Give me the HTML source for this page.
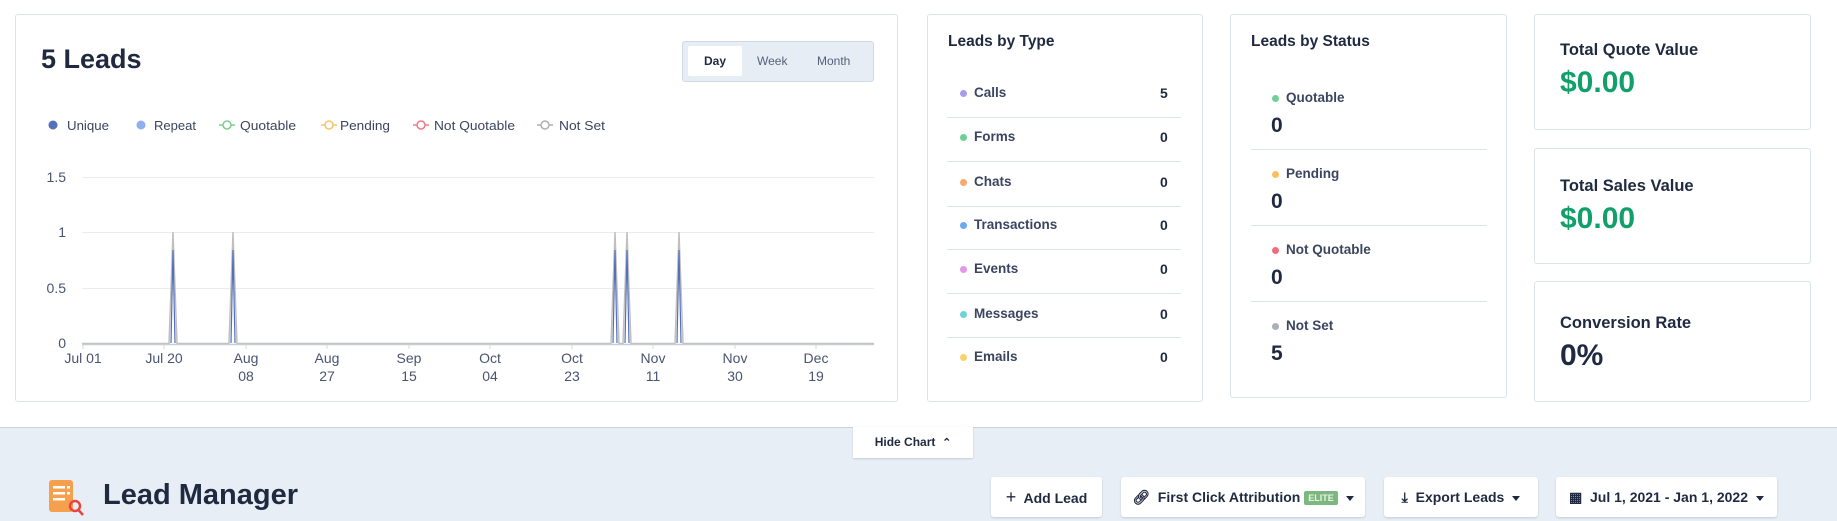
<!DOCTYPE html>
<html><head><meta charset="utf-8"><style>
*{margin:0;padding:0;box-sizing:border-box}
body{width:1837px;height:521px;overflow:hidden;background:#fff;font-family:"Liberation Sans",sans-serif;color:#1f2940;position:relative}
.a{position:absolute;white-space:nowrap}
.card{position:absolute;background:#fff;border:1px solid #dde3ec;border-radius:3px}
.b{font-weight:bold}
.dot{position:absolute;width:7px;height:7px;border-radius:50%}
.div{position:absolute;height:1px;background:#dde3ec}
.btn{position:absolute;top:477px;height:40px;background:#fff;border-radius:3px;box-shadow:0 1px 2px rgba(0,0,0,.15);font-size:14px;font-weight:bold;line-height:40px;text-align:center}
.car{display:inline-block;width:0;height:0;border-left:4px solid transparent;border-right:4px solid transparent;border-top:5px solid #1f2940;vertical-align:middle;margin-left:8px}
</style></head><body>

<div class="card" style="left:15px;top:14px;width:883px;height:388px"></div>
<div class="a b" style="left:41px;top:44px;font-size:27px">5 Leads</div>
<div class="a" style="left:682px;top:41px;width:192px;height:41px;background:#e6edf5;border:1px solid #cfd9e6;border-radius:3px"></div>
<div class="a" style="left:688px;top:46px;width:54px;height:30px;background:#fff;border-radius:2px;font-size:12px;font-weight:bold;text-align:center;line-height:30px">Day</div>
<div class="a" style="left:757px;top:46px;font-size:12px;line-height:30px;color:#55607a">Week</div>
<div class="a" style="left:817px;top:46px;font-size:12px;line-height:30px;color:#55607a">Month</div>

<svg class="a" style="left:0;top:0" width="900" height="410">
<g font-family="Liberation Sans" font-size="12.5" fill="#3b4560">
<circle cx="53" cy="125" r="4.5" fill="#5470b8"/><text x="67" y="130" textLength="42" lengthAdjust="spacingAndGlyphs">Unique</text>
<circle cx="141" cy="125" r="4.5" fill="#8fb0ef"/><text x="154" y="130" textLength="42" lengthAdjust="spacingAndGlyphs">Repeat</text>
<line x1="219" y1="125" x2="235" y2="125" stroke="#7ccf90" stroke-width="1.5"/><circle cx="227" cy="125" r="4" fill="#fff" stroke="#7ccf90" stroke-width="1.5"/><text x="240" y="130" textLength="56" lengthAdjust="spacingAndGlyphs">Quotable</text>
<line x1="321" y1="125" x2="337" y2="125" stroke="#f7c56b" stroke-width="1.5"/><circle cx="329" cy="125" r="4" fill="#fff" stroke="#f7c56b" stroke-width="1.5"/><text x="340" y="130" textLength="50" lengthAdjust="spacingAndGlyphs">Pending</text>
<line x1="413" y1="125" x2="429" y2="125" stroke="#f07a85" stroke-width="1.5"/><circle cx="421" cy="125" r="4" fill="#fff" stroke="#f07a85" stroke-width="1.5"/><text x="434" y="130" textLength="81" lengthAdjust="spacingAndGlyphs">Not Quotable</text>
<line x1="537" y1="125" x2="553" y2="125" stroke="#b0b0b0" stroke-width="1.5"/><circle cx="545" cy="125" r="4" fill="#fff" stroke="#b0b0b0" stroke-width="1.5"/><text x="559" y="130" textLength="46" lengthAdjust="spacingAndGlyphs">Not Set</text>
</g>
<g stroke="#ececec" stroke-width="1"><line x1="82" y1="177.5" x2="874" y2="177.5"/><line x1="82" y1="232.5" x2="874" y2="232.5"/><line x1="82" y1="288.5" x2="874" y2="288.5"/></g>
<g font-family="Liberation Sans" font-size="14" fill="#4a5470" text-anchor="end">
<text x="66" y="182">1.5</text><text x="66" y="237">1</text><text x="66" y="293">0.5</text><text x="66" y="348">0</text></g>
<g stroke="#d5dae2"><line x1="83" y1="344" x2="83" y2="349"/><line x1="164" y1="344" x2="164" y2="349"/><line x1="246" y1="344" x2="246" y2="349"/><line x1="327" y1="344" x2="327" y2="349"/><line x1="409" y1="344" x2="409" y2="349"/><line x1="490" y1="344" x2="490" y2="349"/><line x1="572" y1="344" x2="572" y2="349"/><line x1="653" y1="344" x2="653" y2="349"/><line x1="735" y1="344" x2="735" y2="349"/><line x1="816" y1="344" x2="816" y2="349"/></g>
<g font-family="Liberation Sans" font-size="14" fill="#4a5470" text-anchor="middle">
<text x="83" y="363">Jul 01</text><text x="164" y="363">Jul 20</text>
<text x="246" y="363">Aug</text><text x="246" y="381">08</text>
<text x="327" y="363">Aug</text><text x="327" y="381">27</text>
<text x="409" y="363">Sep</text><text x="409" y="381">15</text>
<text x="490" y="363">Oct</text><text x="490" y="381">04</text>
<text x="572" y="363">Oct</text><text x="572" y="381">23</text>
<text x="653" y="363">Nov</text><text x="653" y="381">11</text>
<text x="735" y="363">Nov</text><text x="735" y="381">30</text>
<text x="816" y="363">Dec</text><text x="816" y="381">19</text></g>
<g fill="none" stroke-width="1.5">
<polyline stroke="#c0c0c0" points="82,343.5 169,343.5 173,232 177,343.5 229,343.5 233,232 237,343.5 611,343.5 615,232 619,343.5 623,343.5 627,232 631,343.5 675,343.5 679,232 683,343.5 874,343.5"/>
<polyline stroke="#5470b8" stroke-width="1.2" points="171,343 173,250 175,343"/>
<polyline stroke="#5470b8" stroke-width="1.2" points="231,343 233,250 235,343"/>
<polyline stroke="#5470b8" stroke-width="1.2" points="613,343 615,250 617,343"/>
<polyline stroke="#5470b8" stroke-width="1.2" points="625,343 627,250 629,343"/>
<polyline stroke="#5470b8" stroke-width="1.2" points="677,343 679,250 681,343"/>
</g>
<line x1="82" y1="344.5" x2="874" y2="344.5" stroke="#c8ccd4" stroke-width="1.5"/>
</svg>

<!-- Leads by Type -->
<div class="card" style="left:927px;top:14px;width:276px;height:388px"></div>
<div class="a b" style="left:948px;top:33px;font-size:15.5px">Leads by Type</div>
<div class="dot" style="left:960px;top:90px;background:#a99be8"></div><div class="a b" style="left:974px;top:85px;font-size:13.5px;color:#3b4560">Calls</div><div class="a b" style="left:1160px;top:85px;font-size:14px">5</div>
<div class="div" style="left:947px;top:117px;width:234px"></div>
<div class="dot" style="left:960px;top:134px;background:#6fcf97"></div><div class="a b" style="left:974px;top:129px;font-size:13.5px;color:#3b4560">Forms</div><div class="a b" style="left:1160px;top:129px;font-size:14px">0</div>
<div class="div" style="left:947px;top:161px;width:234px"></div>
<div class="dot" style="left:960px;top:179px;background:#f9a870"></div><div class="a b" style="left:974px;top:174px;font-size:13.5px;color:#3b4560">Chats</div><div class="a b" style="left:1160px;top:174px;font-size:14px">0</div>
<div class="div" style="left:947px;top:206px;width:234px"></div>
<div class="dot" style="left:960px;top:222px;background:#6aa8f0"></div><div class="a b" style="left:974px;top:217px;font-size:13.5px;color:#3b4560">Transactions</div><div class="a b" style="left:1160px;top:217px;font-size:14px">0</div>
<div class="div" style="left:947px;top:249px;width:234px"></div>
<div class="dot" style="left:960px;top:266px;background:#e596e8"></div><div class="a b" style="left:974px;top:261px;font-size:13.5px;color:#3b4560">Events</div><div class="a b" style="left:1160px;top:261px;font-size:14px">0</div>
<div class="div" style="left:947px;top:293px;width:234px"></div>
<div class="dot" style="left:960px;top:311px;background:#6fd3d3"></div><div class="a b" style="left:974px;top:306px;font-size:13.5px;color:#3b4560">Messages</div><div class="a b" style="left:1160px;top:306px;font-size:14px">0</div>
<div class="div" style="left:947px;top:337px;width:234px"></div>
<div class="dot" style="left:960px;top:354px;background:#fccf6f"></div><div class="a b" style="left:974px;top:349px;font-size:13.5px;color:#3b4560">Emails</div><div class="a b" style="left:1160px;top:349px;font-size:14px">0</div>

<!-- Leads by Status -->
<div class="card" style="left:1230px;top:14px;width:277px;height:384px"></div>
<div class="a b" style="left:1251px;top:33px;font-size:15.5px">Leads by Status</div>
<div class="dot" style="left:1272px;top:95px;background:#6fcf97"></div><div class="a b" style="left:1286px;top:90px;font-size:13.5px;color:#3b4560">Quotable</div><div class="a b" style="left:1271px;top:114px;font-size:21px">0</div>
<div class="div" style="left:1251px;top:149px;width:236px"></div>
<div class="dot" style="left:1272px;top:171px;background:#fcbf5f"></div><div class="a b" style="left:1286px;top:166px;font-size:13.5px;color:#3b4560">Pending</div><div class="a b" style="left:1271px;top:190px;font-size:21px">0</div>
<div class="div" style="left:1251px;top:225px;width:236px"></div>
<div class="dot" style="left:1272px;top:247px;background:#f06c7a"></div><div class="a b" style="left:1286px;top:242px;font-size:13.5px;color:#3b4560">Not Quotable</div><div class="a b" style="left:1271px;top:266px;font-size:21px">0</div>
<div class="div" style="left:1251px;top:301px;width:236px"></div>
<div class="dot" style="left:1272px;top:323px;background:#a9b0b8"></div><div class="a b" style="left:1286px;top:318px;font-size:13.5px;color:#3b4560">Not Set</div><div class="a b" style="left:1271px;top:342px;font-size:21px">5</div>

<!-- right cards -->
<div class="card" style="left:1534px;top:14px;width:277px;height:116px"></div>
<div class="a b" style="left:1560px;top:41px;font-size:16.5px">Total Quote Value</div>
<div class="a b" style="left:1560px;top:66px;font-size:30px;color:#12a06a">$0.00</div>
<div class="card" style="left:1534px;top:148px;width:277px;height:116px"></div>
<div class="a b" style="left:1560px;top:177px;font-size:16.5px">Total Sales Value</div>
<div class="a b" style="left:1560px;top:202px;font-size:30px;color:#12a06a">$0.00</div>
<div class="card" style="left:1534px;top:281px;width:277px;height:121px"></div>
<div class="a b" style="left:1560px;top:314px;font-size:16.5px">Conversion Rate</div>
<div class="a b" style="left:1560px;top:339px;font-size:30px">0%</div>

<!-- bottom -->
<div class="a" style="left:0;top:427px;width:1837px;height:94px;background:#e7eef6;border-top:1.5px solid #cdd3dc"></div>
<div class="a b" style="left:853px;top:427px;width:120px;height:31px;background:#fff;box-shadow:0 1px 2px rgba(0,0,0,.15);font-size:12px;line-height:30px;text-align:center">Hide Chart &nbsp;<span style="font-size:11px">&#8963;</span></div>
<svg class="a" style="left:48px;top:478px" width="38" height="40">
<rect x="1" y="2" width="24" height="32" rx="3" fill="#f6a04d"/>
<rect x="5" y="8" width="12" height="2.5" fill="#fff"/><rect x="5" y="14" width="12" height="2.5" fill="#fff"/><rect x="5" y="20" width="12" height="2.5" fill="#fff"/><rect x="19" y="8" width="3" height="2.5" fill="#fff"/><rect x="19" y="14" width="3" height="2.5" fill="#fff"/>
<circle cx="27" cy="28" r="5" fill="none" stroke="#e8453c" stroke-width="2.5"/><line x1="30.5" y1="32" x2="35" y2="37" stroke="#e8453c" stroke-width="2.5"/>
</svg>
<div class="a b" style="left:103px;top:479px;font-size:29px">Lead Manager</div>
<div class="btn" style="left:991px;width:111px"><span style="font-size:18px;font-weight:normal">+</span>&nbsp; Add Lead</div>
<div class="btn" style="left:1121px;width:244px">&#128279;&#xFE0E;&nbsp; First Click Attribution <span style="display:inline-block;background:#7cb77f;color:#e8f4e8;font-size:9px;line-height:14px;padding:0 4px;border-radius:2px;vertical-align:middle">ELITE</span><span class="car"></span></div>
<div class="btn" style="left:1384px;width:154px">&#10515;&nbsp; Export Leads<span class="car"></span></div>
<div class="btn" style="left:1556px;width:221px">&#9638;&nbsp; Jul 1, 2021 - Jan 1, 2022<span class="car"></span></div>
</body></html>
